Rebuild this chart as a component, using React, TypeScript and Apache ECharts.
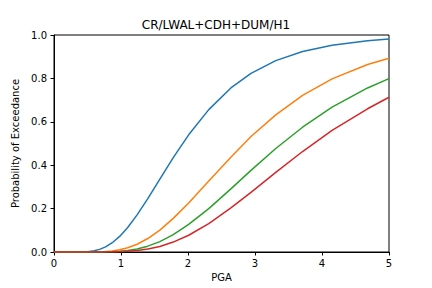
import React, { useEffect, useRef } from "react";
import * as echarts from "echarts";

// PGA sample points (g) and exceedance probabilities per damage state
const pga = [0, 0.3, 0.5, 0.6, 0.68, 0.77, 0.87, 0.98, 1.1, 1.24, 1.4, 1.58, 1.78, 2.01, 2.31, 2.64, 2.94, 3.31, 3.71, 4.15, 4.68, 5.0];
const probSlight = [0, 0, 0.0017, 0.0057, 0.012, 0.0236, 0.0427, 0.0719, 0.113, 0.171, 0.246, 0.336, 0.435, 0.54, 0.656, 0.756, 0.823, 0.882, 0.924, 0.953, 0.974, 0.981];
const probModerate = [0, 0, 0.0001, 0.0004, 0.0009, 0.0023, 0.0051, 0.0104, 0.0196, 0.0358, 0.0621, 0.101, 0.155, 0.226, 0.327, 0.437, 0.532, 0.632, 0.722, 0.798, 0.864, 0.893];
const probExtensive = [0, 0, 0, 0, 0.0002, 0.0006, 0.0015, 0.0034, 0.0071, 0.0142, 0.0269, 0.0479, 0.0797, 0.127, 0.2, 0.291, 0.376, 0.477, 0.575, 0.668, 0.756, 0.799];
const probComplete = [0, 0, 0, 0, 0.0001, 0.0002, 0.0006, 0.0014, 0.0031, 0.0067, 0.0136, 0.0257, 0.0457, 0.0772, 0.131, 0.203, 0.275, 0.367, 0.463, 0.56, 0.66, 0.713];

const seriesList = [
  { name: "Slight", values: probSlight, color: "#1f77b4" },
  { name: "Moderate", values: probModerate, color: "#ff7f0e" },
  { name: "Extensive", values: probExtensive, color: "#2ca02c" },
  { name: "Complete", values: probComplete, color: "#d62728" },
];

const FONT = "DejaVu Sans";

export default function App() {
  const ref = useRef<HTMLDivElement>(null);

  useEffect(() => {
    if (!ref.current) return;
    const chart = echarts.init(ref.current, null, { renderer: "svg" });
    chart.setOption({
      animation: false,
      backgroundColor: "#ffffff",
      textStyle: { fontFamily: FONT },
      title: {
        text: "CR/LWAL+CDH+DUM/H1",
        left: "center",
        top: 19,
        padding: 0,
        textStyle: { fontFamily: FONT, fontSize: 12, fontWeight: "normal", color: "#000" },
      },
      grid: {
        left: 54,
        top: 35,
        width: 335,
        height: 217,
        show: true,
        borderColor: "#000",
        borderWidth: 1,
        backgroundColor: "transparent",
      },
      xAxis: {
        type: "value",
        min: 0,
        max: 5,
        interval: 1,
        name: "PGA",
        nameLocation: "middle",
        nameGap: 19,
        nameTextStyle: { fontFamily: FONT, fontSize: 10, color: "#000" },
        axisLine: { show: true, lineStyle: { color: "#000", width: 1 } },
        axisTick: { show: true, inside: false, length: 3.5, lineStyle: { color: "#000" } },
        axisLabel: { margin: 6, fontFamily: FONT, fontSize: 10, color: "#000" },
        splitLine: { show: false },
      },
      yAxis: {
        type: "value",
        min: 0,
        max: 1,
        interval: 0.2,
        name: "Probability of Exceedance",
        nameLocation: "middle",
        nameGap: 28,
        nameTextStyle: { fontFamily: FONT, fontSize: 10, color: "#000" },
        axisLine: { show: true, lineStyle: { color: "#000", width: 1 } },
        axisTick: { show: true, inside: false, length: 3.5, lineStyle: { color: "#000" } },
        axisLabel: {
          margin: 7,
          fontFamily: FONT,
          fontSize: 10,
          color: "#000",
          formatter: (v: number) => v.toFixed(1),
        },
        splitLine: { show: false },
      },
      series: seriesList.map((s) => ({
        name: s.name,
        type: "line",
        data: pga.map((x, i) => [x, s.values[i]]),
        showSymbol: false,
        smooth: false,
        lineStyle: { color: s.color, width: 1.5 },
        itemStyle: { color: s.color },
        clip: true,
      })),
    });
    return () => chart.dispose();
  }, []);

  return (
    <div
      ref={ref}
      style={{ position: "fixed", left: 0, top: 0, width: 432, height: 288 }}
    />
  );
}
